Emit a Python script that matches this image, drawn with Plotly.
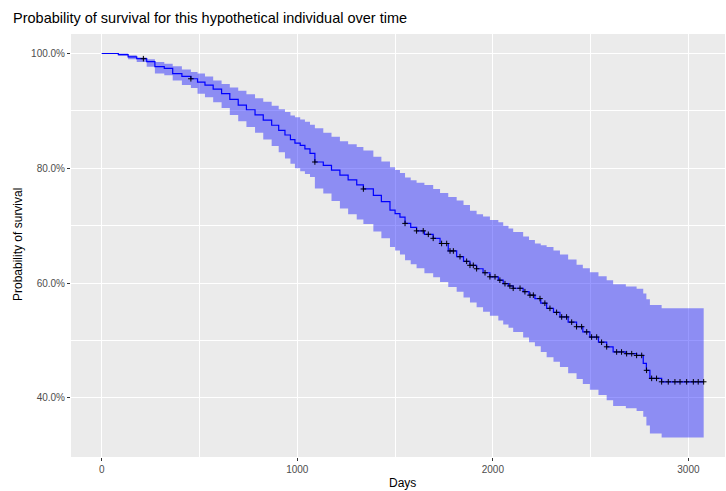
import numpy as np
import plotly.graph_objects as go

# Event times (days) and Kaplan-Meier style estimates
times = [0, 85, 135, 179, 230, 272, 320, 363, 410, 456, 490, 528, 570, 613, 655, 698, 740, 784,
         826, 869, 905, 937, 965, 988, 1015, 1039, 1065, 1090, 1133, 1175, 1218, 1260, 1304, 1338,
         1389, 1430, 1474, 1500, 1525, 1551, 1580, 1610, 1650, 1695, 1730, 1772, 1815, 1850, 1883,
         1917, 1950, 1985, 2028, 2053, 2080, 2104, 2155, 2185, 2215, 2245, 2275, 2310, 2343, 2385,
         2428, 2460, 2496, 2540, 2582, 2615, 2680, 2735, 2769, 2785, 2803, 2863, 3078]
surv = [1.000, 0.998, 0.994, 0.991, 0.986, 0.977, 0.974, 0.965, 0.960, 0.956, 0.950, 0.945, 0.938,
        0.930, 0.920, 0.910, 0.902, 0.893, 0.884, 0.875, 0.866, 0.858, 0.850, 0.844, 0.840, 0.834,
        0.826, 0.811, 0.805, 0.797, 0.788, 0.780, 0.771, 0.764, 0.753, 0.742, 0.727, 0.721, 0.715,
        0.704, 0.697, 0.691, 0.685, 0.678, 0.669, 0.656, 0.646, 0.638, 0.631, 0.625, 0.618, 0.611,
        0.605, 0.599, 0.595, 0.591, 0.585, 0.579, 0.573, 0.565, 0.556, 0.549, 0.541, 0.532, 0.524,
        0.515, 0.506, 0.497, 0.489, 0.480, 0.477, 0.474, 0.460, 0.448, 0.434, 0.428, 0.428]
upper = [1.000, 1.000, 0.997, 0.993, 0.990, 0.985, 0.982, 0.978, 0.972, 0.968, 0.965, 0.960, 0.953,
         0.947, 0.941, 0.935, 0.929, 0.922, 0.916, 0.909, 0.903, 0.898, 0.892, 0.889, 0.885, 0.881,
         0.876, 0.870, 0.862, 0.855, 0.847, 0.842, 0.837, 0.831, 0.820, 0.812, 0.802, 0.797, 0.792,
         0.784, 0.779, 0.775, 0.771, 0.764, 0.757, 0.750, 0.744, 0.736, 0.726, 0.720, 0.716, 0.710,
         0.706, 0.700, 0.695, 0.689, 0.681, 0.675, 0.669, 0.666, 0.663, 0.657, 0.650, 0.641, 0.632,
         0.626, 0.619, 0.612, 0.605, 0.598, 0.594, 0.590, 0.582, 0.572, 0.562, 0.556, 0.556]
lower = [1.000, 0.996, 0.990, 0.985, 0.977, 0.965, 0.962, 0.953, 0.945, 0.940, 0.930, 0.924, 0.915,
         0.905, 0.893, 0.882, 0.872, 0.862, 0.850, 0.839, 0.828, 0.817, 0.808, 0.800, 0.795, 0.790,
         0.785, 0.765, 0.756, 0.743, 0.730, 0.720, 0.711, 0.703, 0.690, 0.678, 0.663, 0.657, 0.650,
         0.640, 0.633, 0.626, 0.617, 0.610, 0.602, 0.593, 0.585, 0.575, 0.566, 0.558, 0.550, 0.543,
         0.535, 0.528, 0.522, 0.515, 0.505, 0.497, 0.490, 0.480, 0.471, 0.463, 0.454, 0.443, 0.433,
         0.424, 0.414, 0.405, 0.396, 0.386, 0.382, 0.377, 0.367, 0.352, 0.338, 0.331, 0.331]

# Censoring times (days)
censor_times = [213, 456, 1090, 1338, 1551, 1610, 1644, 1670, 1695, 1738, 1764, 1781, 1798, 1832,
                1866, 1883, 1900, 1917, 1960, 1985, 2011, 2036, 2062, 2087, 2104, 2139, 2164, 2190,
                2207, 2241, 2266, 2292, 2326, 2352, 2377, 2403, 2428, 2454, 2480, 2505, 2531, 2556,
                2582, 2633, 2658, 2684, 2710, 2735, 2761, 2786, 2812, 2837, 2863, 2897, 2931, 2957,
                2991, 3025, 3050, 3078]

x_ticks = [0, 1000, 2000, 3000]
y_ticks = [0.4, 0.6, 0.8, 1.0]

t_arr = np.array(times)
s_arr = np.array(surv)
idx = np.searchsorted(t_arr, np.array(censor_times), side="right") - 1
censor_surv = s_arr[idx]

W, H = 726, 491
ML, MR, MT, MB = 71, 1, 34, 34
PW, PH = W - ML - MR, H - MT - MB

def px_x(px):
    return (px - ML) / PW

def px_y(py):
    return (H - MB - py) / PH

fig = go.Figure()
fig.add_trace(go.Scatter(x=times, y=lower, mode="lines", line=dict(width=0, shape="hv"),
                         showlegend=False, hoverinfo="skip"))
fig.add_trace(go.Scatter(x=times, y=upper, mode="lines", line=dict(width=0, shape="hv"),
                         fill="tonexty", fillcolor="rgba(0,0,255,0.4)",
                         showlegend=False, hoverinfo="skip"))
fig.add_trace(go.Scatter(x=times, y=surv, mode="lines", line=dict(color="#0000FF", width=1.2, shape="hv"),
                         showlegend=False))
fig.add_trace(go.Scatter(x=censor_times, y=censor_surv, mode="markers",
                         marker=dict(symbol="cross-thin", size=4, color="black",
                                     line=dict(width=1, color="black")),
                         showlegend=False))

fig.update_layout(
    width=W, height=H,
    margin=dict(l=ML, r=MR, t=MT, b=MB),
    paper_bgcolor="white",
    plot_bgcolor="#EBEBEB",
    font=dict(family="Liberation Sans, Arial, sans-serif"),
    title=dict(text="Probability of survival for this hypothetical individual over time",
               x=13 / W, xanchor="left", y=1 - 18 / H, yanchor="middle",
               font=dict(size=14.5, color="black")),
    annotations=[
        dict(text="Days", x=px_x(402), y=px_y(483), xref="paper", yref="paper",
             xanchor="center", yanchor="middle", showarrow=False,
             font=dict(size=12, color="black")),
        dict(text="Probability of survival", x=px_x(18), y=px_y(245), xref="paper", yref="paper",
             xanchor="center", yanchor="middle", showarrow=False, textangle=-90,
             font=dict(size=12, color="black")),
    ],
)
fig.update_xaxes(range=[-157, 3187], tickvals=x_ticks, ticks="outside", ticklen=3,
                 tickcolor="#333333", tickwidth=1,
                 tickfont=dict(size=10, color="#4D4D4D"),
                 showgrid=True, gridcolor="white", gridwidth=1.2, zeroline=False, showline=False,
                 minor=dict(tickvals=[500, 1500, 2500], showgrid=True, gridcolor="white",
                            gridwidth=0.6, ticks=""))
fig.update_yaxes(range=[0.297, 1.034], tickvals=y_ticks, tickformat=".1%", ticks="outside",
                 ticklen=3, tickcolor="#333333", tickwidth=1,
                 tickfont=dict(size=10, color="#4D4D4D"),
                 showgrid=True, gridcolor="white", gridwidth=1.2, zeroline=False, showline=False,
                 minor=dict(tickvals=[0.5, 0.7, 0.9], showgrid=True, gridcolor="white",
                            gridwidth=0.6, ticks=""))

fig.write_html("out.html")
